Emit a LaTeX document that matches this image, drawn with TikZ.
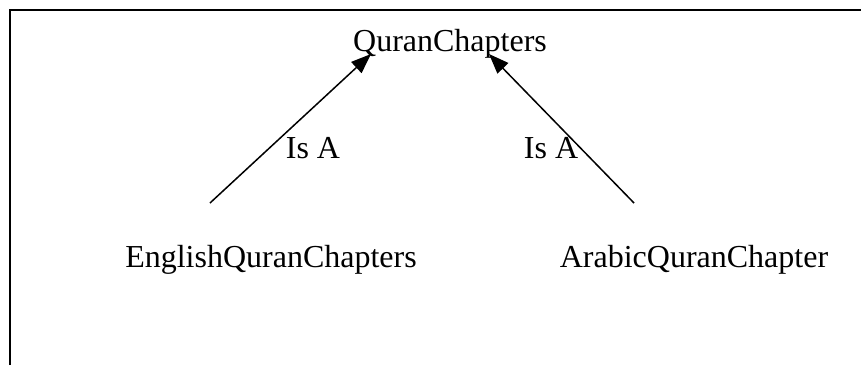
\documentclass[tikz,border=0pt]{standalone}
\usepackage{fontspec}
\setmainfont{Liberation Serif}
\usetikzlibrary{arrows.meta}
\begin{document}
\begin{tikzpicture}[x=1pt,y=-1pt,
  lbl/.style={font=\fontsize{32}{38}\selectfont, anchor=base, inner sep=0pt},
  isa/.style={line width=1.5pt, -{Triangle[length=20pt,width=15pt]}},
  frame/.style={line width=2pt}]
\useasboundingbox (0,0) rectangle (861,365);
\draw[frame] (10,365) -- (10,10) -- (861,10);
\node[lbl] (top) at (450,51) {QuranChapters};
\node[lbl] (eng) at (271,267) {EnglishQuranChapters};
\node[lbl] (ara) at (694,267) {ArabicQuranChapter};
\coordinate (engtip) at (210,203);
\coordinate (aratip) at (634,203);
\coordinate (topl) at (371,54);
\coordinate (topr) at (489,54);
\draw[isa] (engtip) -- (topl);
\draw[isa] (aratip) -- (topr);
\node[lbl] (isal) at (313,158) {Is A};
\node[lbl] (isar) at (551,158) {Is A};
\end{tikzpicture}
\end{document}
